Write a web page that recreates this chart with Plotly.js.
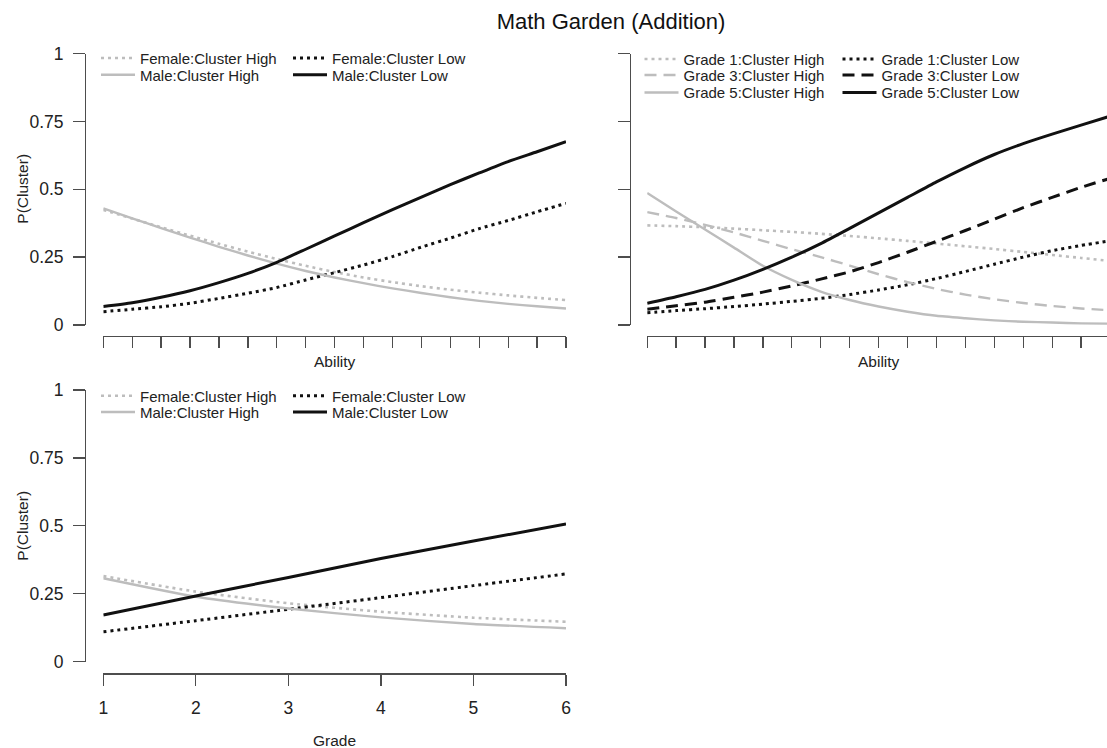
<!DOCTYPE html>
<html>
<head>
<meta charset="utf-8">
<script src="https://cdn.plot.ly/plotly-3.0.1.min.js"></script>
<style>html,body{margin:0;padding:0;background:#fff}#chart{width:1107px;height:748px}</style>
</head>
<body>
<div id="chart"></div>
<script>
// ---------- data ----------
const abilityIdx = [0,1,2,3,4,5,6,7,8,9,10,11,12,13,14,15,16];

// Panel 1: Ability x Sex
const p1FemaleHigh = [0.424,0.392,0.360,0.329,0.299,0.270,0.243,0.218,0.195,0.175,0.158,0.143,0.130,0.119,0.109,0.100,0.092];
const p1MaleHigh   = [0.430,0.393,0.357,0.322,0.288,0.256,0.226,0.199,0.175,0.154,0.135,0.118,0.102,0.089,0.078,0.069,0.061];
const p1FemaleLow  = [0.049,0.058,0.067,0.080,0.098,0.117,0.138,0.166,0.193,0.221,0.252,0.287,0.320,0.355,0.385,0.417,0.448];
const p1MaleLow    = [0.068,0.082,0.102,0.126,0.156,0.190,0.231,0.279,0.328,0.377,0.425,0.471,0.517,0.560,0.602,0.638,0.675];

// Panel 2: Ability x Grade
const p2Grade1High = [0.367,0.364,0.360,0.355,0.349,0.343,0.336,0.328,0.319,0.310,0.300,0.290,0.280,0.269,0.258,0.247,0.236];
const p2Grade3High = [0.416,0.394,0.369,0.341,0.310,0.279,0.250,0.219,0.187,0.158,0.133,0.112,0.095,0.081,0.070,0.061,0.054];
const p2Grade5High = [0.486,0.418,0.352,0.285,0.218,0.166,0.123,0.092,0.068,0.049,0.034,0.025,0.017,0.012,0.009,0.006,0.005];
const p2Grade1Low  = [0.045,0.053,0.060,0.068,0.077,0.087,0.098,0.112,0.129,0.148,0.171,0.197,0.224,0.250,0.274,0.293,0.310];
const p2Grade3Low  = [0.058,0.071,0.084,0.102,0.121,0.144,0.169,0.196,0.230,0.268,0.308,0.348,0.390,0.432,0.470,0.507,0.540];
const p2Grade5Low  = [0.080,0.104,0.131,0.165,0.205,0.250,0.300,0.356,0.413,0.470,0.527,0.580,0.628,0.668,0.703,0.736,0.769];

// Panel 3: Grade x Sex
const grades = [1,2,3,4,5,6];
const p3FemaleHigh = [0.315,0.258,0.215,0.184,0.162,0.147];
const p3MaleHigh   = [0.307,0.239,0.196,0.163,0.139,0.123];
const p3FemaleLow  = [0.110,0.151,0.193,0.236,0.280,0.323];
const p3MaleLow    = [0.172,0.242,0.310,0.380,0.444,0.507];

const yTickVals = [0,0.25,0.5,0.75,1];
const yTickText = ['0','0.25','0.5','0.75','1'];
const gradeTickText = ['1','2','3','4','5','6'];

// ---------- styling ----------
const W = 1107, H = 748;
const FONT = 'Liberation Sans, Arial, Helvetica, sans-serif';
const GRAY = '#bdbdbd', BLACK = '#111111', AXC = '#4d4d4d';
const DOT = '3px,4px', DASH = '12px,7px';

function tr(x, y, name, color, dash, width, xa, ya, leg) {
  return {x: x, y: y, name: name, type: 'scatter', mode: 'lines',
    line: {color: color, dash: dash, width: width, shape: 'spline', smoothing: 0.6},
    xaxis: xa, yaxis: ya, legend: leg, hoverinfo: 'skip'};
}

const data = [
  tr(abilityIdx, p1FemaleHigh, 'Female:Cluster High', GRAY, DOT, 2.6, 'x', 'y', 'legend'),
  tr(abilityIdx, p1FemaleLow,  'Female:Cluster Low',  BLACK, DOT, 3, 'x', 'y', 'legend'),
  tr(abilityIdx, p1MaleHigh,   'Male:Cluster High',   GRAY, 'solid', 2.4, 'x', 'y', 'legend2'),
  tr(abilityIdx, p1MaleLow,    'Male:Cluster Low',    BLACK, 'solid', 3, 'x', 'y', 'legend2'),

  tr(abilityIdx, p2Grade1High, 'Grade 1:Cluster High', GRAY, DOT, 2.6, 'x2', 'y2', 'legend3'),
  tr(abilityIdx, p2Grade1Low,  'Grade 1:Cluster Low',  BLACK, DOT, 3, 'x2', 'y2', 'legend3'),
  tr(abilityIdx, p2Grade3High, 'Grade 3:Cluster High', GRAY, DASH, 2.4, 'x2', 'y2', 'legend4'),
  tr(abilityIdx, p2Grade3Low,  'Grade 3:Cluster Low',  BLACK, DASH, 3, 'x2', 'y2', 'legend4'),
  tr(abilityIdx, p2Grade5High, 'Grade 5:Cluster High', GRAY, 'solid', 2.4, 'x2', 'y2', 'legend5'),
  tr(abilityIdx, p2Grade5Low,  'Grade 5:Cluster Low',  BLACK, 'solid', 3, 'x2', 'y2', 'legend5'),

  tr(grades, p3FemaleHigh, 'Female:Cluster High', GRAY, DOT, 2.6, 'x3', 'y3', 'legend6'),
  tr(grades, p3FemaleLow,  'Female:Cluster Low',  BLACK, DOT, 3, 'x3', 'y3', 'legend6'),
  tr(grades, p3MaleHigh,   'Male:Cluster High',   GRAY, 'solid', 2.4, 'x3', 'y3', 'legend7'),
  tr(grades, p3MaleLow,    'Male:Cluster Low',    BLACK, 'solid', 3, 'x3', 'y3', 'legend7')
];

function xAx(d0, d1, range, tickvals, ticktext, showLabels, posPx) {
  return {domain: [d0 / W, d1 / W], range: range, anchor: 'free', position: 1 - posPx / H,
    showline: true, linecolor: AXC, linewidth: 1.3, ticks: 'outside', ticklen: 11, tickwidth: 1.3,
    tickcolor: AXC, tickvals: tickvals, ticktext: ticktext, showticklabels: showLabels,
    ticklabelstandoff: 7, tickfont: {size: 17.5, color: '#222', family: FONT},
    showgrid: false, zeroline: false, fixedrange: true};
}
function yAx(top, bot, posPx, showLabels) {
  return {domain: [1 - bot / H, 1 - top / H], range: [0, 1], anchor: 'free', position: posPx / W,
    showline: true, linecolor: AXC, linewidth: 1.3, ticks: 'outside', ticklen: 12, tickwidth: 1.3,
    tickcolor: AXC, tickvals: yTickVals, ticktext: yTickText, showticklabels: showLabels,
    ticklabelstandoff: 6, tickfont: {size: 17.5, color: '#222', family: FONT},
    showgrid: false, zeroline: false, fixedrange: true};
}
const LEG_ITEMW = 34;
function leg(textStartPx, rowPx, ew) {
  return {orientation: 'h', x: (textStartPx - LEG_ITEMW - 10) / W, y: 1 - rowPx / H,
    xanchor: 'left', yanchor: 'middle',
    bgcolor: 'rgba(0,0,0,0)', borderwidth: 0, font: {size: 15, color: '#222', family: FONT},
    entrywidth: ew, entrywidthmode: 'pixels', itemwidth: LEG_ITEMW, itemclick: false, itemdoubleclick: false};
}
function ann(text, xPx, yPx, angle) {
  return {text: text, x: xPx / W, y: 1 - yPx / H, xref: 'paper', yref: 'paper', showarrow: false,
    xanchor: 'center', yanchor: 'middle', textangle: angle || 0,
    font: {size: 15.5, color: '#222', family: FONT}};
}

const layout = {
  width: W, height: H,
  margin: {l: 0, r: 0, t: 0, b: 0},
  paper_bgcolor: '#ffffff', plot_bgcolor: 'rgba(0,0,0,0)',
  font: {family: FONT, color: '#222'},
  title: {text: 'Math Garden (Addition)', x: 611 / W, xanchor: 'center', xref: 'paper',
    y: 1 - 21 / H, yref: 'container', yanchor: 'middle', font: {size: 22, color: '#111', family: FONT}},
  showlegend: true,
  xaxis:  xAx(103.3, 566, [0, 16], abilityIdx, null, false, 335.7),
  yaxis:  yAx(53.5, 325, 85, true),
  xaxis2: xAx(647.2, 1107, [0, 15.896], abilityIdx, null, false, 335.7),
  yaxis2: yAx(53.5, 325, 629.7, false),
  xaxis3: xAx(103.3, 566, [1, 6], grades, gradeTickText, true, 673.3),
  yaxis3: yAx(390, 661.7, 85, true),
  legend:  leg(140, 58.3, 143),
  legend2: leg(140, 75, 143),
  legend3: leg(683.5, 59.2, 149),
  legend4: leg(683.5, 75.3, 149),
  legend5: leg(683.5, 92.8, 149),
  legend6: leg(140, 396, 143),
  legend7: leg(140, 412.3, 143),
  annotations: [
    ann('P(Cluster)', 21.7, 189, -90),
    ann('P(Cluster)', 21.7, 526, -90),
    ann('Ability', 334.7, 361, 0),
    ann('Ability', 878.6, 361, 0),
    ann('Grade', 334.7, 740.7, 0)
  ]
};

Plotly.newPlot('chart', data, layout, {displayModeBar: false, staticPlot: true});
</script>
</body>
</html>
